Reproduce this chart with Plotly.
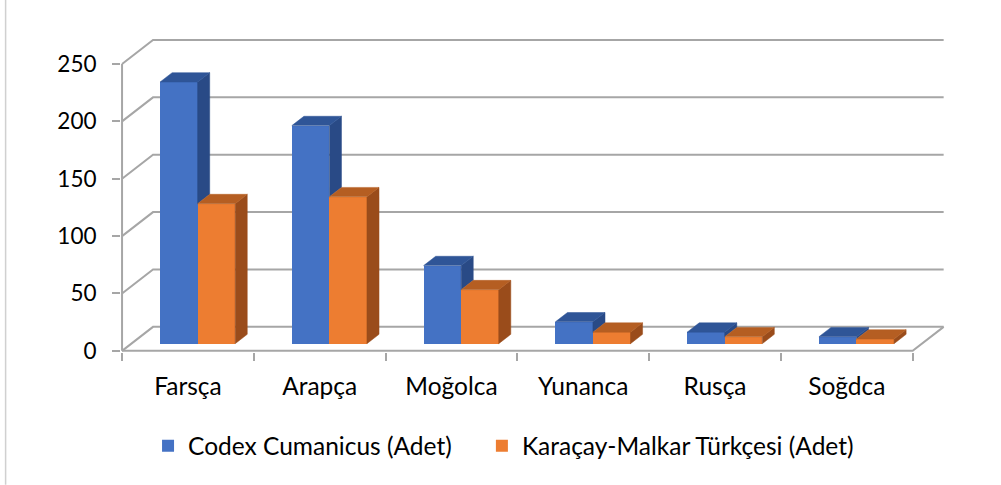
import plotly.graph_objects as go

# ---------------- data ----------------
categories = ["Farsça", "Arapça", "Moğolca", "Yunanca", "Rusça", "Soğdca"]
codex_cumanicus = [228, 190, 68, 19, 10, 6]
karacay_malkar = [122, 128, 47, 10, 6, 4]
series_names = ["Codex Cumanicus (Adet)", "Karaçay-Malkar Türkçesi (Adet)"]
y_ticks = [0, 50, 100, 150, 200, 250]

# ---------------- styling / geometry ----------------
FONT = "Lato, Carlito, Calibri, sans-serif"
TXT = "#000000"
GRID = "#A6A6A6"
FRONT = ["#4472C4", "#ED7D31"]
TOP = ["#2F5597", "#B55E22"]
SIDE = ["#294A86", "#9A4C1B"]

N = len(categories)
DX = 0.235          # depth of the wall in category units
DY = 20.9           # depth of the wall in value units
F_FRONT = 0.30      # bar front position (fraction of depth)
F_DEPTH = 0.39      # bar depth (fraction of depth)
GAP = 0.218         # left gap inside a category
BW = 0.285          # bar width

fx, fy = F_FRONT * DX, F_FRONT * DY
bdx, bdy = F_DEPTH * DX, F_DEPTH * DY

PXX = 131.83        # px per category unit
PXY = 1.148         # px per value unit
x_range = [-0.008, 6.268]
y_range = [-1.0, 273.5]
left = 122 + x_range[0] * PXX
width = (x_range[1] - x_range[0]) * PXX
bottom_px = 351 - y_range[0] * PXY
height = (y_range[1] - y_range[0]) * PXY
W, H = 1001, 485


def px_to_paper_x(px):
    return (px - left) / width


def px_to_paper_y(py):
    return (bottom_px - py) / height


fig = go.Figure()

# ---------------- bars ----------------
series = [codex_cumanicus, karacay_malkar]
legend_ids = ["legend", "legend2"]
for s, vals in enumerate(series):
    xs = [i + GAP + fx + (s + 0.5) * BW for i in range(N)]
    fig.add_trace(go.Bar(
        x=xs, y=vals, base=fy, width=BW, name=series_names[s],
        marker=dict(color=FRONT[s], line=dict(width=0)),
        legend=legend_ids[s], hoverinfo="skip",
    ))

for i in range(N):
    for s, vals in enumerate(series):
        v = vals[i]
        xL = i + GAP + fx + s * BW
        xR = xL + BW
        b = fy
        low = b + series[1][i] if s == 0 else b
        if not (s == 0 and series[1][i] >= v):
            fig.add_trace(go.Scatter(
                x=[xR, xR + bdx, xR + bdx, xR, xR],
                y=[low, low + bdy, b + v + bdy, b + v, low],
                fill="toself", fillcolor=SIDE[s], mode="lines",
                line=dict(color=SIDE[s], width=0.5),
                showlegend=False, hoverinfo="skip"))
        fig.add_trace(go.Scatter(
            x=[xL, xL + bdx, xR + bdx, xR, xL],
            y=[b + v, b + v + bdy, b + v + bdy, b + v, b + v],
            fill="toself", fillcolor=TOP[s], mode="lines",
            line=dict(color=TOP[s], width=0.5),
            showlegend=False, hoverinfo="skip"))

# ---------------- walls / gridlines (shapes below traces) ----------------
shapes = []
for v in y_ticks:
    shapes.append(dict(type="path", xref="x", yref="y", layer="below",
                       path=f"M0,{v} L{DX},{v + DY} L{N + DX},{v + DY}",
                       line=dict(color=GRID, width=2)))
shapes.append(dict(type="path", xref="x", yref="y", layer="below",
                   path=f"M0,0 L{N},0 L{N + DX},{DY}",
                   line=dict(color=GRID, width=2)))
shapes.append(dict(type="line", xref="x", yref="y", layer="below",
                   x0=0, y0=0, x1=0, y1=y_ticks[-1],
                   line=dict(color=GRID, width=2)))
shapes.append(dict(type="line", xref="paper", yref="paper",
                   x0=px_to_paper_x(5.5), x1=px_to_paper_x(5.5),
                   y0=px_to_paper_y(H), y1=px_to_paper_y(0),
                   line=dict(color="#D0D0D0", width=1.5)))

legend_style = dict(orientation="h", xanchor="left", yanchor="middle",
                    y=px_to_paper_y(446),
                    font=dict(family=FONT, size=24.5, color=TXT),
                    bgcolor="rgba(0,0,0,0)", itemclick=False, itemdoubleclick=False)

fig.update_layout(
    width=W, height=H,
    margin=dict(l=left, r=W - left - width, t=bottom_px - height, b=H - bottom_px, autoexpand=False),
    paper_bgcolor="white", plot_bgcolor="rgba(0,0,0,0)",
    barmode="overlay", bargap=0,
    shapes=shapes,
    showlegend=True,
    legend=dict(x=px_to_paper_x(148), **legend_style),
    legend2=dict(x=px_to_paper_x(482), **legend_style),
    font=dict(family=FONT, size=24, color=TXT),
)
fig.update_xaxes(
    range=x_range, showgrid=False, zeroline=False, showline=False,
    tickmode="array", tickvals=[i + 0.5 for i in range(N)], ticktext=categories,
    ticks="", ticklabelstandoff=17,
    tickfont=dict(family=FONT, size=24.5, color=TXT),
    minor=dict(tickmode="array", tickvals=list(range(N + 1)), ticks="outside",
               ticklen=8, tickwidth=2, tickcolor=GRID, showgrid=False),
    fixedrange=True,
)
fig.update_yaxes(
    range=y_range, showgrid=False, zeroline=False, showline=False,
    tickmode="array", tickvals=y_ticks, ticks="outside", ticklen=8, tickwidth=2,
    tickcolor=GRID, ticklabelstandoff=11,
    tickfont=dict(family=FONT, size=22.5, color=TXT),
    fixedrange=True,
)

fig.write_html("out.html", config={"displayModeBar": False},
               post_script="document.body.style.margin='0';")
